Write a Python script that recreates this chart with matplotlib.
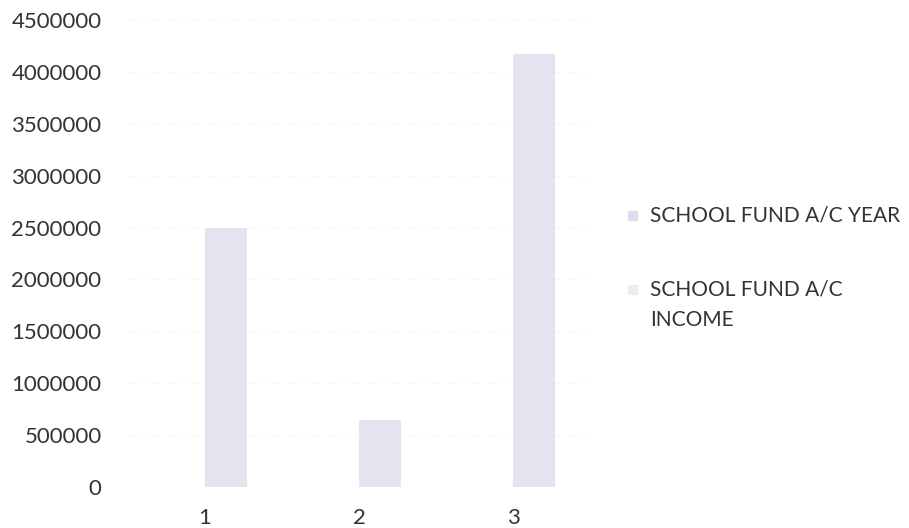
import matplotlib
matplotlib.use("Agg")
import matplotlib.pyplot as plt
from matplotlib.patches import Rectangle
import numpy as np

categories = ["1", "2", "3"]
year_values = [2015, 2016, 2017]
income_values = [2500000, 650000, 4170000]
y_ticks = [0, 500000, 1000000, 1500000, 2000000, 2500000, 3000000, 3500000, 4000000, 4500000]
series_names = ["SCHOOL FUND A/C YEAR", "SCHOOL FUND A/C\nINCOME"]

plt.rcParams['font.family'] = ['Lato', 'DejaVu Sans']

fig = plt.figure(figsize=(9.09, 5.28), dpi=100)
ax = fig.add_axes([128/909, 1-487/528, (590-128)/909, (487-20)/528])

x = np.arange(len(categories))
w = 0.27
year_color = '#dcdcec'
income_color = '#e4e4f1'
ax.bar(x - w/2, year_values, width=w, color=year_color, zorder=2)
ax.bar(x + w/2, income_values, width=w, color=income_color, zorder=2)

ax.set_xlim(-0.5, 2.5)
ax.set_ylim(0, 4500000)
ax.set_yticks(y_ticks)
ax.set_yticklabels([str(v) for v in y_ticks], fontsize=16, color='#333333')
ax.set_xticks(x)
ax.set_xticklabels(categories, fontsize=16, color='#333333')
ax.tick_params(axis='y', length=0, pad=19)
ax.tick_params(axis='x', length=0, pad=15)
for s in ax.spines.values():
    s.set_visible(False)
ax.grid(axis='y', color='#f3f3f3', linewidth=0.8, linestyle=(0, (4, 8)), zorder=0)
ax.set_axisbelow(True)

# legend drawn manually
fig.patches.append(Rectangle((628/909, 1-220/528), 9/909, 9/528, transform=fig.transFigure,
                             color=year_color, figure=fig))
fig.text(650/909, 1-215/528, series_names[0], fontsize=15, color='#333333', va='center', ha='left')
fig.patches.append(Rectangle((628/909, 1-294/528), 9/909, 9/528, transform=fig.transFigure,
                             color='#ececf5', figure=fig))
fig.text(650/909, 1-279/528, series_names[1], fontsize=15, color='#333333', va='top', ha='left',
         linespacing=1.7)

fig.savefig("out.png", dpi=100, facecolor='white')
